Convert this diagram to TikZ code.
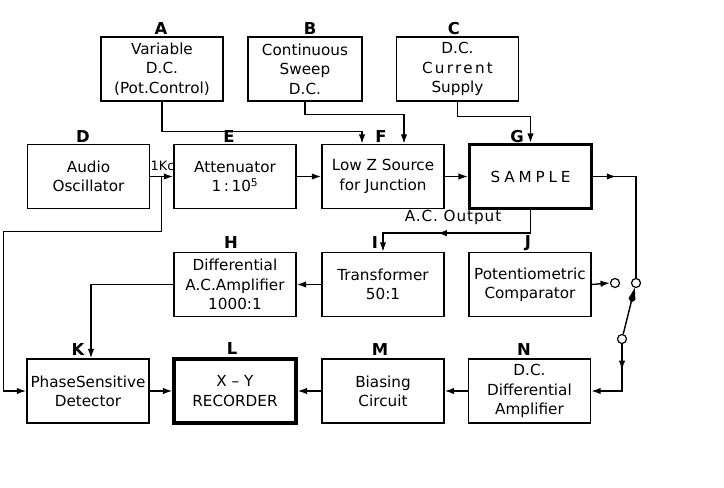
\documentclass[tikz,border=0pt]{standalone}
\usepackage{fontspec}
\setmainfont{DejaVu Sans}
\usetikzlibrary{arrows.meta,calc}

\tikzset{
  blk/.style={draw, line width=1.3pt, minimum width=3.66cm, minimum height=1.92cm,
    inner sep=1pt, align=center, font=\fontsize{13}{16.5}\selectfont},
  heavy/.style={blk, line width=2.8pt},
  tag/.style={font=\fontsize{14}{14}\selectfont\bfseries},
  wire/.style={line width=1.2pt},
  sig/.style={wire, -{Latex[length=8pt,width=5.5pt]}},
  term/.style={circle, draw, line width=1pt, fill=white, inner sep=0pt, minimum size=0.27cm}
}

\begin{document}
\begin{tikzpicture}[x=0.03cm, y=-0.03cm]

    \useasboundingbox (0,0) rectangle (724,488);

    % Top row: supplies
    \node[blk] (A) at (162,69) {Variable\\D.C.\\(Pot.Control)};
    \node[blk, minimum width=3.42cm] (B) at (305,69) {Continuous\\Sweep\\D.C.};
    \node[blk] (C) at (457.5,69) {D.C.\\{\addfontfeatures{LetterSpace=15}Current}\\Supply};

    % Second row
    \node[blk] (D) at (88.5,176.5) {Audio\\Oscillator};
    \node[blk] (E) at (235,176.5) {Attenuator\\1\,:\,10\textsuperscript{5}};
    \node[blk] (F) at (383,176.5) {Low Z Source\\for Junction};
    \node[heavy] (G) at (530.5,176.5) {\addfontfeatures{LetterSpace=25}SAMPLE};

    % Third row
    \node[blk] (H) at (235,284.5) {Differential\\A.C.Amplifier\\1000:1};
    \node[blk] (I) at (383,284.5) {Transformer\\50:1};
    \node[blk] (J) at (530,284.5) {Potentiometric\\Comparator};

    % Bottom row
    \node[blk] (K) at (88,391) {PhaseSensitive\\Detector};
    \node[heavy] (L) at (235,391) {X -- Y\\RECORDER};
    \node[blk] (M) at (383,391) {Biasing\\Circuit};
    \node[blk] (N) at (529.5,391) {D.C.\\Differential\\Amplifier};

    % Letters
    \node[tag] (tA) at (161,29) {A};
    \node[tag] (tB) at (310,29) {B};
    \node[tag] (tC) at (454,29) {C};
    \node[tag] (tD) at (83,137) {D};
    \node[tag] (tE) at (229,137) {E};
    \node[tag] (tF) at (381,137) {F};
    \node[tag] (tG) at (517,137) {G};
    \node[tag] (tH) at (231,243) {H};
    \node[tag] (tI) at (375,243) {I};
    \node[tag] (tJ) at (528,243) {J};
    \node[tag] (tK) at (78,350) {K};
    \node[tag] (tL) at (232,349) {L};
    \node[tag] (tM) at (380,350) {M};
    \node[tag] (tN) at (524,350) {N};

    % Switch contacts
    \node[term] (s0) at (615,283) {};
    \node[term] (s1) at (636,283) {};
    \node[term] (s2) at (622,339) {};

    % Supplies into F and G
    \draw[sig] (A.south) -- ++(0,30) -| ([xshift=-0.63cm]F.north);
    \draw[sig] (B.south) -- ++(0,13) -| ([xshift=0.63cm]F.north);
    \draw[sig] (C.south) -- ++(0,15) -| (G.north);

    % Oscillator chain
    \coordinate (tap) at ($(D.east)!0.5!(E.west)$);
    \draw[sig] (D.east) -- (E.west);
    \node[font=\fontsize{11}{11}\selectfont, inner sep=0pt] (kc) at (162.5,166) {1Kc};
    \draw[sig] (tap) -- ++(0,55) -- ++(-158.5,0) |- (K.west);
    \draw[sig] (E.east) -- (F.west);
    \draw[sig] (F.east) -- (G.west);

    % Sample output to the switch
    \draw[wire] (G.east) -| (s1.north);
    \draw[sig] (G.east) -- ++(23,0);

    % A.C. output
    \draw[sig] (G.south) |- ++(-93,23);
    \draw[sig] (G.south) -- ++(0,23) -| (I.north);
    \node[font=\fontsize{13}{13}\selectfont\addfontfeatures{LetterSpace=6}] (ac) at (453,217) {A.C. Output};
    \draw[sig] (I.west) -- (H.east);
    \draw[sig] (H.west) -| ([xshift=0.09cm]K.north);

    % Comparator and switch
    \draw[sig] (J.east) -- (s0.west);
    \draw[wire, -{Kite[length=13pt,width=6pt]}] (s2) -- (s1);
    \draw[sig] (s2.south) -- ++(0,26);
    \draw[sig] (s2.south) |- (N.east);

    % Bottom chain
    \draw[sig] (N.west) -- (M.east);
    \draw[sig] (M.west) -- (L.east);
    \draw[sig] (K.east) -- (L.west);

\end{tikzpicture}
\end{document}
